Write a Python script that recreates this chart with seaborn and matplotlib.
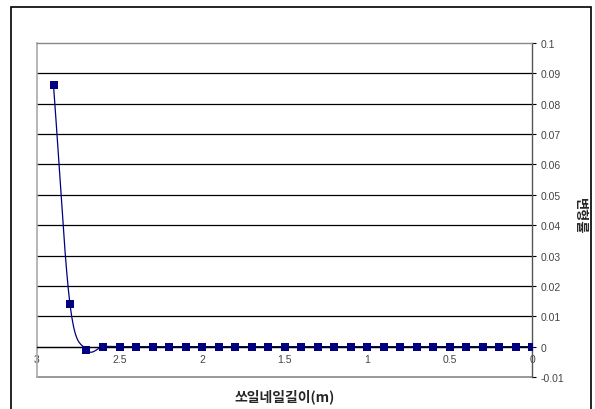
import numpy as np
import pandas as pd
import matplotlib
matplotlib.use("Agg")
import matplotlib.pyplot as plt
import seaborn as sns
from matplotlib.patches import Rectangle

# ---- data ----
length_m = [2.9, 2.8, 2.7, 2.6, 2.5, 2.4, 2.3, 2.2, 2.1, 2.0, 1.9, 1.8, 1.7, 1.6,
            1.5, 1.4, 1.3, 1.2, 1.1, 1.0, 0.9, 0.8, 0.7, 0.6, 0.5, 0.4, 0.3, 0.2,
            0.1, 0.0]
strain = [0.0861, 0.0139, -0.001] + [0.0] * 27
x_ticks = [3, 2.5, 2, 1.5, 1, 0.5, 0]
x_tick_labels = ["3", "2.5", "2", "1.5", "1", "0.5", "0"]
y_ticks = [0.1, 0.09, 0.08, 0.07, 0.06, 0.05, 0.04, 0.03, 0.02, 0.01, 0, -0.01]
y_tick_labels = ["0.1", "0.09", "0.08", "0.07", "0.06", "0.05", "0.04", "0.03",
                 "0.02", "0.01", "0", "-0.01"]
x_label = "쏘일네일길이(m)"
y_label = "변형률"

df = pd.DataFrame({"x": length_m, "y": strain})

# smoothed line (Catmull-Rom through data points, like Excel smoothing)
def catmull_rom(xs, ys, n=20):
    xs = np.asarray(xs, float); ys = np.asarray(ys, float)
    px = np.concatenate([[2 * xs[0] - xs[1]], xs, [2 * xs[-1] - xs[-2]]])
    py = np.concatenate([[2 * ys[0] - ys[1]], ys, [2 * ys[-1] - ys[-2]]])
    ox, oy = [], []
    for i in range(1, len(px) - 2):
        t = np.linspace(0, 1, n, endpoint=False)
        for arr, out in ((px, ox), (py, oy)):
            p0, p1, p2, p3 = arr[i - 1], arr[i], arr[i + 1], arr[i + 2]
            out.extend(0.5 * ((2 * p1) + (-p0 + p2) * t +
                              (2 * p0 - 5 * p1 + 4 * p2 - p3) * t ** 2 +
                              (-p0 + 3 * p1 - 3 * p2 + p3) * t ** 3))
    ox.append(xs[-1]); oy.append(ys[-1])
    return np.array(ox), np.array(oy)

sx, sy = catmull_rom(df["x"], df["y"])
smooth = pd.DataFrame({"x": sx, "y": sy})

sns.set_theme(style="white")
plt.rcParams["font.family"] = ["Liberation Sans", "Noto Sans CJK KR", "DejaVu Sans"]

W, H = 595, 410
fig = plt.figure(figsize=(W / 100, H / 100), dpi=100)
ax = fig.add_axes([37 / W, 1 - 378 / H, (532 - 37) / W, (378 - 44) / H])

# outer chart frame
fig.patches.append(Rectangle((11 / W, -0.05), (591 - 11) / W, 1.05 - 8 / H,
                             transform=fig.transFigure, fill=False,
                             edgecolor="black", linewidth=1.2))

navy = "#000080"
sns.lineplot(data=smooth, x="x", y="y", ax=ax, color=navy, linewidth=0.9,
             sort=False, estimator=None)
sns.scatterplot(data=df, x="x", y="y", ax=ax, marker="s", s=34, color=navy,
                edgecolor=navy, linewidth=0, zorder=5)

ax.set_xlim(3, 0)
ax.set_ylim(-0.01, 0.1)

for yv in y_ticks:
    if yv in (0.1, -0.01):
        continue
    ax.axhline(yv, color="black", linewidth=0.9, zorder=1)

ax.set_yticks(y_ticks)
ax.set_yticklabels(y_tick_labels)
ax.set_xticks(x_ticks)
ax.set_xticklabels(x_tick_labels)

ax.yaxis.tick_right()
ax.spines["bottom"].set_position(("data", 0))
ax.spines["bottom"].set_color("black")
ax.spines["bottom"].set_linewidth(0.9)
ax.spines["right"].set_color("#555555")
ax.spines["right"].set_linewidth(1.0)
ax.spines["left"].set_color("#aaaaaa")
ax.spines["left"].set_linewidth(1.2)
ax.spines["top"].set_color("#888888")
ax.spines["top"].set_linewidth(1.0)
ax.axhline(-0.01, color="#888888", linewidth=1.2, zorder=1, clip_on=False)

ax.tick_params(axis="y", which="both", right=True, left=False, direction="out",
               length=3, width=0.8, color="black", labelsize=7.5, labelcolor="#444444", pad=3)
ax.tick_params(axis="x", which="both", bottom=True, direction="inout",
               length=4, width=0.6, color="#888888", labelsize=7.5, labelcolor="#444444", pad=3)

ax.set_xlabel(x_label, fontsize=10, fontweight="bold",
              family=["Noto Sans CJK KR", "DejaVu Sans"])
ax.xaxis.set_label_coords(0.5, -0.035)
ax.set_ylabel("")
fig.text(580 / W, 1 - 216 / H, y_label, fontsize=9.5, fontweight="bold",
         rotation=270, ha="center", va="center",
         family=["Noto Sans CJK KR", "DejaVu Sans"])
ax.grid(False)

fig.savefig("out.png", dpi=100)
